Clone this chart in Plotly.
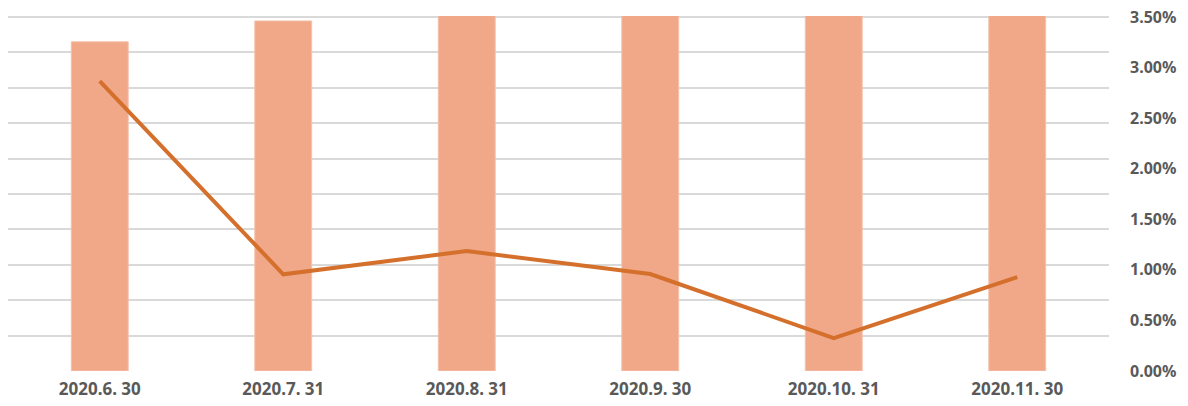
import plotly.graph_objects as go

categories = ["2020.6. 30", "2020.7. 31", "2020.8. 31", "2020.9. 30", "2020.10. 31", "2020.11. 30"]
bar_values = [9.3, 9.89, 10.6, 10.9, 11.3, 11.1]          # primary (hidden) axis, clipped above 10
line_values = [0.02867, 0.00956, 0.01186, 0.00959, 0.00326, 0.00929]  # secondary axis (%)
right_ticks = [0, 0.005, 0.01, 0.015, 0.02, 0.025, 0.03, 0.035]
left_ticks = [0, 1, 2, 3, 4, 5, 6, 7, 8, 9, 10]

fig = go.Figure()
fig.add_trace(go.Bar(
    x=categories, y=bar_values, yaxis="y",
    marker=dict(color="#F0A889", line=dict(color="#F4C0AA", width=1)),
    width=0.31, cliponaxis=True,
))
fig.add_trace(go.Scatter(
    x=categories, y=line_values, yaxis="y2", mode="lines",
    line=dict(color="#D4702C", width=4),
))

fig.update_layout(
    template="none",
    width=1188, height=406,
    margin=dict(l=8, r=59, t=16, b=35, autoexpand=False),
    paper_bgcolor="white", plot_bgcolor="white",
    showlegend=False,
    font=dict(family="Noto Sans", color="#595959"),
    xaxis=dict(
        type="category", domain=[0, 0.98216],
        showgrid=False, zeroline=False, showline=False,
        automargin=False,
        tickfont=dict(size=17, family="Noto Sans", color="#595959", weight="bold"),
        ticks="", ticklabelstandoff=6,
    ),
    yaxis=dict(
        range=[0, 10.03], tickvals=left_ticks, showticklabels=False,
        showgrid=True, gridcolor="#D9D9D9", gridwidth=1.5,
        zeroline=False, showline=False, automargin=False, ticks="",
    ),
    yaxis2=dict(
        overlaying="y", side="right", anchor="free", position=1,
        range=[0, 0.0351],
        tickvals=right_ticks, tickformat=".2%",
        showgrid=False, zeroline=False, showline=False, automargin=False,
        ticks="",
        tickfont=dict(size=16, family="Noto Sans", color="#595959", weight="bold"),
    ),
)

fig.write_html(
    "out.html",
    config={"displayModeBar": False},
    post_script="document.body.style.margin='0';document.body.style.overflow='hidden';",
)
